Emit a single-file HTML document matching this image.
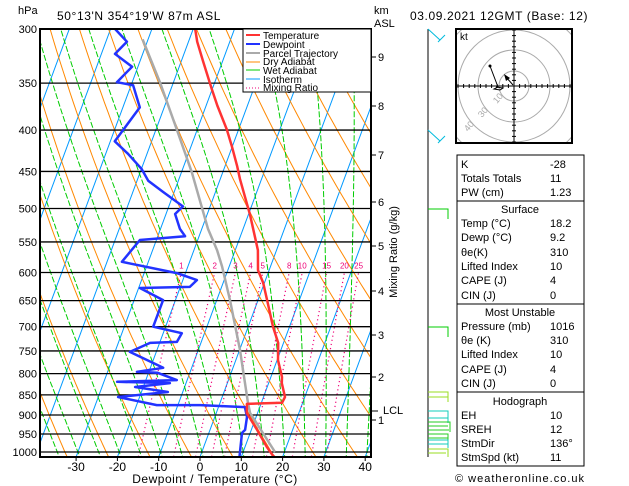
<!DOCTYPE html>
<html><head><meta charset="utf-8"><style>
body{margin:0;background:#fff;}
svg{display:block;font-family:"Liberation Sans",sans-serif;}
text{font-size:11px;fill:#000;}
</style></head><body>
<svg id="chart" width="629" height="486" viewBox="0 0 629 486" xmlns="http://www.w3.org/2000/svg">
<defs><clipPath id="plotclip"><rect x="40" y="29" width="331" height="428"/></clipPath></defs>
<g id="bg" clip-path="url(#plotclip)"></g>
<g id="series" clip-path="url(#plotclip)"></g>
<g id="axes"></g>
<rect x="40" y="29" width="331" height="428" fill="none" stroke="#000" stroke-width="2"/>
<text x="18" y="14">hPa</text>
<text x="57" y="20" style="font-size:12px;letter-spacing:0.6px">50°13'N  354°19'W  87m  ASL</text>
<text x="374" y="14">km</text>
<text x="374" y="27">ASL</text>
<text x="410" y="20" style="font-size:12px;letter-spacing:0.6px">03.09.2021  12GMT  (Base: 12)</text>
<text x="215" y="483" text-anchor="middle" style="font-size:12px;letter-spacing:0.5px">Dewpoint / Temperature (°C)</text>
<text transform="translate(397,252) rotate(-90)" text-anchor="middle">Mixing Ratio (g/kg)</text>
<g>
<rect x="243" y="29" width="128" height="63" fill="#fff" stroke="#000" stroke-width="1"/>
<line x1="246" y1="35" x2="260" y2="35" stroke="#f33" stroke-width="2"/><text x="263" y="39" style="font-size:10px">Temperature</text>
<line x1="246" y1="44" x2="260" y2="44" stroke="#23f" stroke-width="2"/><text x="263" y="48" style="font-size:10px">Dewpoint</text>
<line x1="246" y1="53" x2="260" y2="53" stroke="#aaa" stroke-width="2"/><text x="263" y="57" style="font-size:10px">Parcel Trajectory</text>
<line x1="246" y1="62" x2="260" y2="62" stroke="#f80" stroke-width="1"/><text x="263" y="65" style="font-size:10px">Dry Adiabat</text>
<line x1="246" y1="70" x2="260" y2="70" stroke="#0c0" stroke-width="1"/><text x="263" y="74" style="font-size:10px">Wet Adiabat</text>
<line x1="246" y1="79" x2="260" y2="79" stroke="#09f" stroke-width="1"/><text x="263" y="83" style="font-size:10px">Isotherm</text>
<line x1="246" y1="88" x2="260" y2="88" stroke="#e07" stroke-width="1" stroke-dasharray="1,2"/><text x="263" y="91" style="font-size:10px">Mixing Ratio</text>
</g>
<g>
<rect x="456" y="29" width="116" height="114" fill="#fff" stroke="#000" stroke-width="2"/>
<svg x="457" y="30" width="114" height="112" overflow="hidden">
<g transform="translate(-457,-30)" fill="none" stroke="#aaa">
<circle cx="514" cy="86" r="15"/><circle cx="514" cy="86" r="36"/><circle cx="514" cy="86" r="56"/><circle cx="514" cy="86" r="77"/>
</g></svg>
<line x1="457" y1="86" x2="571" y2="86" stroke="#000"/><line x1="514" y1="30" x2="514" y2="142" stroke="#000"/>
<g stroke="#000" id="hodoticks"></g>
<text x="460" y="40" style="font-size:10px">kt</text>
<text x="497" y="104" transform="rotate(-50,497,104)" style="font-size:9px;fill:#aaa">10</text>
<text x="482" y="118" transform="rotate(-50,482,118)" style="font-size:9px;fill:#aaa">30</text>
<text x="468" y="132" transform="rotate(-50,468,132)" style="font-size:9px;fill:#aaa">40</text>
<polyline points="490,66 498,87 494,89 500,90 503,88 496,87" fill="none" stroke="#000"/>
<circle cx="490" cy="66" r="1.5" fill="#000"/>
<line x1="513" y1="85" x2="506" y2="77" stroke="#000"/><polygon points="504,74 510,78 506,81" fill="#000"/>
</g>
<g fill="none" stroke-width="1">
<line x1="428" y1="29" x2="428" y2="457" stroke="#000"/>
<g stroke="#0bd"><line x1="428" y1="29" x2="440" y2="40"/><path d="M440 40 l3 -3 M438 42 l3 -3 M442 38 l3 -3"/></g>
<g stroke="#0bd"><line x1="428" y1="130" x2="440" y2="141"/><path d="M440 141 l3 -3 M438 143 l3 -3 M442 139 l3 -3"/></g>
<g stroke="#0c0"><path d="M428 209 h20 v10"/></g>
<g stroke="#0c0"><path d="M428 327 h20 v10"/></g>
<g stroke="#9d2"><path d="M428 392 h20 v10 M428 397 h20"/></g>
<g stroke="#1cb"><path d="M428 411 h20 v12 M428 418 h20"/></g>
<g stroke="#2c2"><path d="M428 422 h22 v10 M428 426 h20 M428 430 h21 M428 434 h20 v10 M428 438 h20"/></g>
<g stroke="#1cb"><path d="M428 440 h20 v8 M428 444 h20"/></g>
<g stroke="#9d2"><path d="M428 449 h20 v8 M428 453 h18"/></g>
</g>
<g>
<rect x="457" y="155" width="127" height="311" fill="#fff" stroke="#000"/>
<line x1="457" y1="201" x2="584" y2="201" stroke="#000"/>
<line x1="457" y1="304" x2="584" y2="304" stroke="#000"/>
<line x1="457" y1="392" x2="584" y2="392" stroke="#000"/>
<g style="font-size:11px" id="tabletext"></g>
</g>
<text x="520" y="482" text-anchor="middle" style="font-size:11px;letter-spacing:1px">© weatheronline.co.uk</text>
<script>
const isoPressures=[300,350,400,450,500,550,600,650,700,750,800,850,900,950,1000];
const xTicks=[-30,-20,-10,0,10,20,30,40];
const kmTicks=[9,8,7,6,5,4,3,2,1];
const kmTickY=[57,106,155,202,246,291,335,377,420];
const mixRatios=[1,2,3,4,5,8,10,15,20,25];
const tempP=[1016,1008,986,939,895,872,869,855,822,808,770,733,700,649,618,596,563,509,460,443,419,399,373,356,329,311,300];
const tempT=[18.2,17.3,15.3,11.4,7.4,6.6,15.0,15.2,13.2,12.7,10.2,8.7,6.0,2.2,-0.3,-2.7,-4.5,-9.6,-15.2,-17.1,-20.1,-22.9,-27.3,-30.1,-34.7,-37.9,-39.5];
const dewP=[1016,947,939,905,880,875,875,855,843,831,822,819,815,798,796,787,752,733,731,713,700,649,627,625,613,601,582,547,541,530,508,497,477,462,447,428,413,375,352,349,334,322,311,300];
const dewT=[9.6,8.0,8.5,7.8,6.4,-4.6,-15.1,-25.2,-13.6,-22.0,-13.9,-26.8,-12.5,-17.9,-22.9,-16.9,-26.4,-22.3,-15.9,-15.5,-23.0,-23.0,-29.7,-17.7,-16.6,-22.1,-36.4,-34.0,-23.4,-25.3,-27.8,-26.6,-32.7,-37.3,-39.9,-44.6,-48.9,-45.9,-49.5,-53.7,-51.4,-56.7,-54.9,-58.9];
const parcelP=[1000,895,870,748,649,590,563,530,451,399,349,309];
const parcelT=[17.7,8.2,6.8,0.1,-6.8,-11.7,-14.4,-18.5,-27.5,-35.0,-43.3,-51.3];
const NS="http://www.w3.org/2000/svg";
function yP(p){return 29+Math.log(p/300)/Math.log(1000/300)*423;}
function xT(T,p){return 200+4.13*T+0.37*(457-yP(p));}
function mk(tag,attrs,parent){const e=document.createElementNS(NS,tag);for(const k in attrs)e.setAttribute(k,attrs[k]);parent.appendChild(e);return e;}
const bg=document.getElementById('bg'),ser=document.getElementById('series'),ax=document.getElementById('axes');
const pl=[];for(let p=1050;p>=290;p-=10)pl.push(p);
function path(fn,ps){return ps.map((p,i)=>(i?'L':'M')+xT(fn(p),p).toFixed(1)+' '+yP(p).toFixed(1)).join(' ');}
for(let T=-120;T<=50;T+=10){const e=mk('path',{d:path(()=>T,[1050,290]),stroke:'#09f','stroke-width':1,fill:'none'},bg);

}
for(let th=230;th<=460;th+=10){const e=mk('path',{d:path(p=>th*Math.pow(p/1000,0.2857)-273.15,pl),stroke:'#f80','stroke-width':1,fill:'none'},bg);

}
function es(T){return 6.112*Math.exp(17.67*T/(T+243.5));}
for(let T0=-35;T0<=40;T0+=5){const pts=[];
 let Tk=T0+273.15;const dn=[];
 for(let q=1000;q<=1050;q+=5){dn.push([q,Tk]);const rs=0.622*es(Tk-273.15)/(q-es(Tk-273.15));const d=(287*Tk+2.5e6*rs)/(q*(1004+2.5e6*2.5e6*rs*0.622/(287*Tk*Tk)));Tk+=d*5;}
 Tk=T0+273.15;
 for(let q=1000;q>=290;q-=5){pts.push([q,Tk]);const rs=0.622*es(Tk-273.15)/(q-es(Tk-273.15));const d=(287*Tk+2.5e6*rs)/(q*(1004+2.5e6*2.5e6*rs*0.622/(287*Tk*Tk)));Tk-=d*5;}
 const all=dn.reverse().concat(pts);
 const e=mk('path',{d:all.map((a,i)=>(i?'L':'M')+xT(a[1]-273.15,a[0]).toFixed(1)+' '+yP(a[0]).toFixed(1)).join(' '),stroke:'#0c0','stroke-width':1,fill:'none','stroke-dasharray':'6,2'},bg);
 
 }
function tdw(w,p){const e=w*p/(622+w);const l=Math.log(e/6.112);return 243.5*l/(17.67-l)+2;}
mixRatios.forEach(w=>{const ps=[];for(let p=1050;p>=600;p-=10)ps.push(p);
 const e=mk('path',{d:path(p=>tdw(w,p),ps),stroke:'#e07','stroke-width':1.2,fill:'none','stroke-dasharray':'1.2,3'},bg);
 
 
 const t=mk('text',{x:xT(tdw(w,600),600),y:yP(600)-4,'text-anchor':'middle',style:'font-size:8px;fill:#e07'},ax);t.textContent=w;
 
 });
isoPressures.forEach(p=>{const y=yP(p);const l=mk('line',{x1:40,x2:371,y1:y,y2:y,stroke:'#000','stroke-width':1.3},ser);
 
 
 const t=mk('text',{x:37,y:y+4,'text-anchor':'end'},ax);t.textContent=p;
 
 });
function series(P,T,color,w,name){const e=mk('path',{d:P.map((p,i)=>(i?'L':'M')+xT(T[i],p).toFixed(1)+' '+yP(p).toFixed(1)).join(' '),stroke:color,'stroke-width':w,fill:'none','stroke-linejoin':'round'},ser);
 
 }
series(parcelP,parcelT,'#aaa',2.5,'parcel-trajectory-line');
series(dewP,dewT,'#23f',2.5,'dewpoint-line');
series(tempP,tempT,'#f33',2.5,'temperature-line');
xTicks.forEach(T=>{const x=200+4.13*T;mk('line',{x1:x,x2:x,y1:457,y2:461,stroke:'#000'},ax);
 const t=mk('text',{x:x,y:471,'text-anchor':'middle',style:'font-size:12px'},ax);t.textContent=T;
 
 });
kmTicks.forEach((k,i)=>{const y=kmTickY[i];mk('line',{x1:371,x2:376,y1:y,y2:y,stroke:'#000'},ax);
 const t=mk('text',{x:378,y:y+4},ax);t.textContent=k;
 
 });
mk('line',{x1:371,x2:378,y1:411,y2:411,stroke:'#000'},ax);
const lcl=mk('text',{x:383,y:414},ax);lcl.textContent='LCL';


const ht=document.getElementById('hodoticks');
for(let i=-10;i<=10;i++){if(!i)continue;mk('line',{x1:514+i*5.6,x2:514+i*5.6,y1:84,y2:88},ht);mk('line',{x1:512,x2:516,y1:86+i*5.6,y2:86+i*5.6},ht);}
const rows=[["K","-28",168],["Totals Totals","11",182],["PW (cm)","1.23",196],["@Surface","",213],["Temp (°C)","18.2",227],["Dewp (°C)","9.2",241],["θe(K)","310",256],["Lifted Index","10",270],["CAPE (J)","4",284],["CIN (J)","0",299],["@Most Unstable","",316],["Pressure (mb)","1016",330],["θe (K)","310",344],["Lifted Index","10",358],["CAPE (J)","4",373],["CIN (J)","0",387],["@Hodograph","",405],["EH","10",419],["SREH","12",433],["StmDir","136°",447],["StmSpd (kt)","11",461]];
const tt=document.getElementById('tabletext');
rows.forEach(r=>{if(r[0][0]=='@'){const t=mk('text',{x:520,y:r[2],'text-anchor':'middle'},tt);t.textContent=r[0].slice(1);
 
 }
 else{const a=mk('text',{x:461,y:r[2]},tt);a.textContent=r[0];
 
 
 const b=mk('text',{x:550,y:r[2]},tt);b.textContent=r[1];
 
 }});
</script>
</svg>
</body></html>
